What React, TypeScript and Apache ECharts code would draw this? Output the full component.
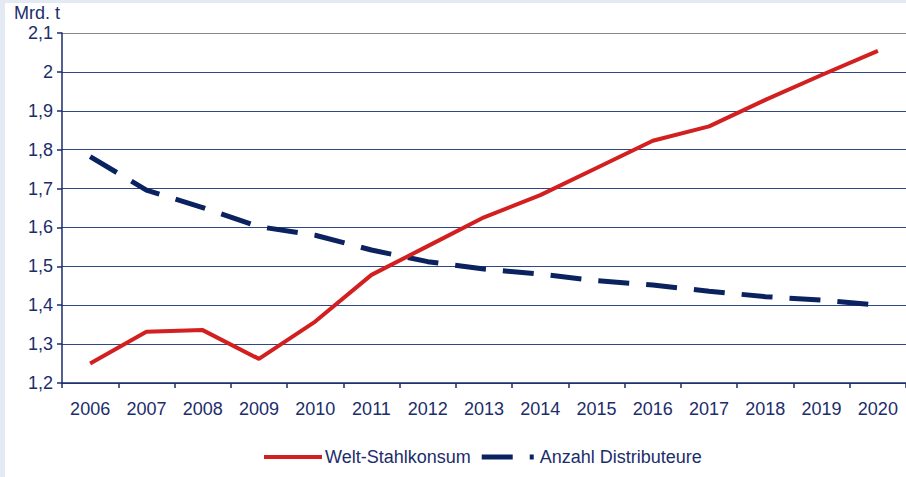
import React, { useEffect, useRef } from "react";
import * as echarts from "echarts";

const years = ["2006","2007","2008","2009","2010","2011","2012","2013","2014","2015","2016","2017","2018","2019","2020"];
const weltStahlkonsum = [1.25, 1.332, 1.336, 1.262, 1.358, 1.478, 1.552, 1.626, 1.683, 1.753, 1.823, 1.86, 1.928, 1.992, 2.054];
const anzahlDistributeure = [1.782, 1.696, 1.651, 1.602, 1.58, 1.542, 1.512, 1.493, 1.48, 1.463, 1.452, 1.436, 1.422, 1.413, 1.4];
const yMin = 1.2;
const yMax = 2.1;
const yStep = 0.1;
const unitLabel = "Mrd. t";
const seriesNames = ["Welt-Stahlkonsum", "Anzahl Distributeure"];

const NAVY = "#1b2d6b";
const GRID = "#2f4785";
const RED = "#d21f1f";
const BLUE = "#0b2260";
const FONT = "Liberation Sans, Arial, sans-serif";

export default function App() {
  const ref = useRef<HTMLDivElement>(null);
  useEffect(() => {
    document.body.style.margin = "0";
    const chart = echarts.init(ref.current!, null, { renderer: "svg" });
    const gridColors = Array.from({ length: 10 }, (_, i) => (i === 9 ? "#8a8a8a" : GRID));
    chart.setOption({
      animation: false,
      backgroundColor: "#ffffff",
      textStyle: { fontFamily: FONT },
      grid: { left: 57, top: 30, right: 0, bottom: 94, containLabel: false },
      graphic: [
        {
          type: "text",
          left: 9,
          top: 1,
          style: { text: unitLabel, fill: NAVY, font: `18px ${FONT}` },
        },
      ],
      legend: {
        left: 259,
        top: 445,
        padding: 0,
        itemWidth: 58,
        itemHeight: 5,
        itemGap: 11,
        textStyle: { color: NAVY, fontSize: 18, fontFamily: FONT, padding: [0, 0, 0, -2] },
        data: [
          {
            name: seriesNames[0],
            icon: "path://M0,0.5h58v4h-58zM0,0M0,5",
            itemStyle: { color: RED },
          },
          {
            name: seriesNames[1],
            icon: "path://M0,0h31v5h-31zM48,0h4v5h-4zM58,0M58,5",
            itemStyle: { color: BLUE },
            textStyle: { padding: [0, 0, 0, -5] },
          },
        ],
      },
      xAxis: {
        type: "category",
        data: years,
        boundaryGap: true,
        axisLine: { lineStyle: { color: NAVY, width: 1.5 } },
        axisTick: { show: true, length: 5, lineStyle: { color: NAVY, width: 1.5 } },
        axisLabel: { color: NAVY, fontSize: 18, fontFamily: FONT, margin: 17, interval: 0 },
        splitLine: { show: false },
      },
      yAxis: {
        type: "value",
        min: yMin,
        max: yMax,
        interval: yStep,
        axisLine: { show: true, lineStyle: { color: NAVY, width: 1.5 } },
        axisTick: { show: true, length: 5, lineStyle: { color: NAVY, width: 1.5 } },
        axisLabel: {
          color: NAVY,
          fontSize: 18,
          fontFamily: FONT,
          margin: 9,
          formatter: (v: number) => String(+v.toFixed(1)).replace(".", ","),
        },
        splitLine: { show: true, lineStyle: { color: gridColors, width: 1.2 } },
      },
      series: [
        {
          name: seriesNames[0],
          type: "line",
          data: weltStahlkonsum,
          symbol: "none",
          showSymbol: false,
          lineStyle: { color: RED, width: 4 },
          itemStyle: { color: RED },
          z: 3,
        },
        {
          name: seriesNames[1],
          type: "line",
          data: anzahlDistributeure,
          symbol: "none",
          showSymbol: false,
          lineStyle: { color: BLUE, width: 5, type: [31, 17], cap: "butt" },
          itemStyle: { color: BLUE },
          z: 2,
        },
      ],
    });
    return () => chart.dispose();
  }, []);
  return (
    <div style={{ width: 906, height: 477, background: "#e4eaf3", position: "relative" }}>
      <div
        ref={ref}
        style={{ position: "absolute", left: 5, top: 3, width: 901, height: 474 }}
      />
    </div>
  );
}
